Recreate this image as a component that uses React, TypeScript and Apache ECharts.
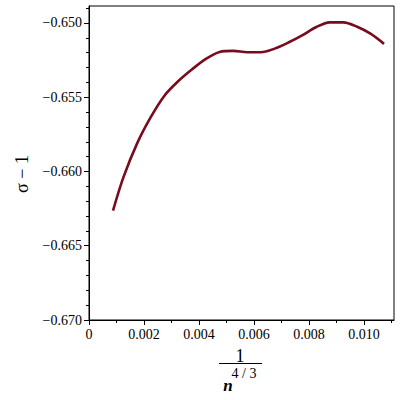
import React, { useEffect, useRef } from "react";
import * as echarts from "echarts";

const xValues = [0.000873, 0.00125, 0.00175, 0.00225, 0.00275, 0.00325, 0.00375, 0.00425, 0.00475, 0.00525, 0.00575, 0.00625, 0.00675, 0.00725, 0.00775, 0.00825, 0.00875, 0.00925, 0.00975, 0.01025, 0.010727];
const yValues = [-0.66263, -0.6604, -0.65811, -0.65633, -0.65488, -0.65391, -0.65312, -0.65242, -0.65195, -0.65188, -0.65197, -0.65197, -0.65173, -0.65132, -0.65084, -0.65029, -0.64996, -0.64996, -0.65026, -0.65074, -0.65141];
const xTicks = [0, 0.002, 0.004, 0.006, 0.008, 0.01];
const yTicks = [-0.67, -0.665, -0.66, -0.655, -0.65];

const SERIF = "'Liberation Serif', 'DejaVu Serif', serif";

function fmtX(v: number): string {
  if (Math.abs(v) < 1e-12) return "0";
  return v.toFixed(3);
}
function fmtY(v: number): string {
  const s = Math.abs(v).toFixed(3);
  return v < 0 ? "\u2212" + s : s;
}

export default function App() {
  const ref = useRef<HTMLDivElement>(null);
  useEffect(() => {
    if (!ref.current) return;
    const chart = echarts.init(ref.current, undefined, { renderer: "svg" });
    const data = xValues.map((x, i) => [x, yValues[i]]);
    chart.setOption({
      animation: false,
      backgroundColor: "#ffffff",
      grid: {
        left: 89,
        right: 6,
        top: 6,
        bottom: 80,
        show: true,
        borderColor: "#000",
        borderWidth: 1,
        containLabel: false,
        outerBoundsMode: "none",
      },
      xAxis: {
        type: "value",
        min: 0,
        max: 0.01109,
        interval: 0.002,
        splitLine: { show: false },
        axisLine: { show: true, onZero: false, lineStyle: { color: "#000", width: 1 } },
        axisTick: { show: true, inside: false, length: 5, lineStyle: { color: "#000" }, customValues: xTicks },
        minorTick: { show: true, splitNumber: 2, length: 3, lineStyle: { color: "#000" } },
        axisLabel: {
          customValues: xTicks,
          formatter: (v: number) => fmtX(v),
          color: "#000",
          fontFamily: SERIF,
          fontSize: 14,
          margin: 7,
        },
      },
      yAxis: {
        type: "value",
        min: -0.67,
        max: -0.64886,
        interval: 0.005,
        splitLine: { show: false },
        axisLine: { show: true, onZero: false, lineStyle: { color: "#000", width: 1 } },
        axisTick: { show: true, inside: false, length: 5, lineStyle: { color: "#000" }, customValues: yTicks },
        minorTick: { show: true, splitNumber: 5, length: 3, lineStyle: { color: "#000" } },
        axisLabel: {
          customValues: yTicks,
          formatter: (v: number) => fmtY(v),
          color: "#000",
          fontFamily: SERIF,
          fontSize: 14,
          margin: 7,
        },
      },
      series: [
        {
          type: "line",
          data,
          smooth: 0.3,
          showSymbol: false,
          symbol: "none",
          lineStyle: { color: "#7a0a1e", width: 2.6 },
        },
      ],
      graphic: [
        {
          type: "text",
          x: 22,
          y: 174,
          rotation: Math.PI / 2,
          style: {
            text: "\u03c3 \u2212 1",
            font: "18px " + SERIF,
            fill: "#000",
            align: "center",
            verticalAlign: "middle",
          },
        },
        {
          type: "text",
          x: 240,
          y: 356,
          style: { text: "1", font: "18px " + SERIF, fill: "#000", align: "center", verticalAlign: "middle" },
        },
        {
          type: "line",
          shape: { x1: 219, y1: 363.5, x2: 262, y2: 363.5 },
          style: { stroke: "#000", lineWidth: 1 },
        },
        {
          type: "text",
          x: 228,
          y: 385,
          style: { text: "n", font: "italic bold 17px " + SERIF, fill: "#000", align: "center", verticalAlign: "middle" },
        },
        {
          type: "text",
          x: 244,
          y: 373,
          style: { text: "4 / 3", font: "14px " + SERIF, fill: "#000", align: "center", verticalAlign: "middle" },
        },
      ],
    });
    return () => chart.dispose();
  }, []);
  return (
    <div
      ref={ref}
      style={{ position: "absolute", left: 0, top: 0, width: 400, height: 400 }}
    />
  );
}
